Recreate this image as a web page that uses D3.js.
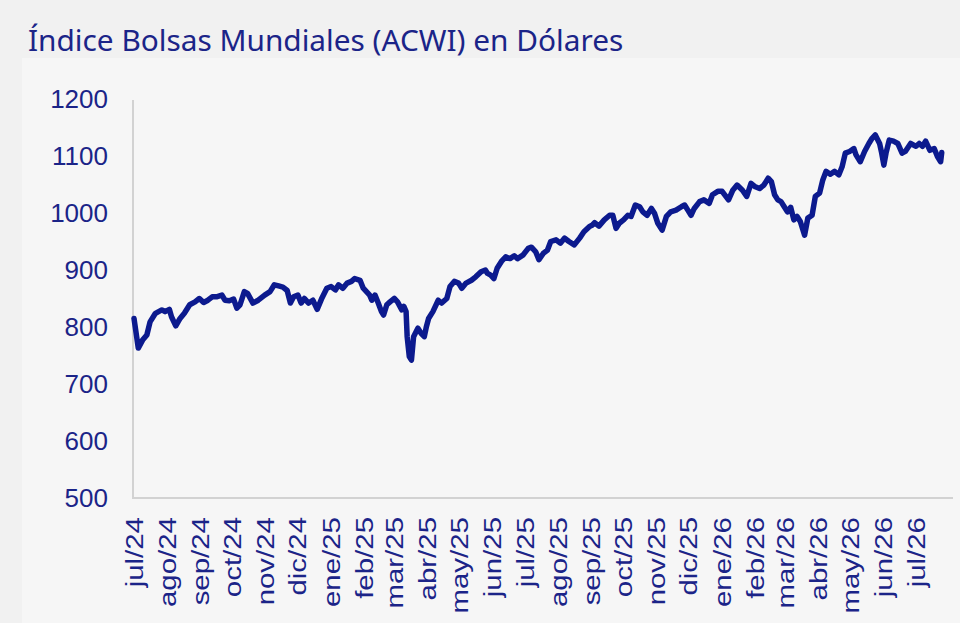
<!DOCTYPE html>
<html>
<head>
<meta charset="utf-8">
<script src="https://cdn.jsdelivr.net/npm/d3@7"></script>
<style>
  html, body { margin: 0; padding: 0; background: #f1f1f1; }
</style>
</head>
<body>
<div id="canvas"></div>
<script>
"use strict";

/* Config */
let svgWidth = 960;
let svgHeight = 623;
const navy = "#1b2488";
const lineColor = "#0c1a8e";

/* Data: días desde el 1-jul-2024 y nivel del índice */
const fechaInicio = new Date(2024, 6, 1);
const dias = [
  0, 4, 8, 12, 15, 20, 23, 26, 29, 33, 35, 39, 43, 47, 52, 57, 61, 65, 69, 73,
  77, 82, 85, 89, 93, 96, 99, 103, 106, 111, 116, 122, 127, 131, 135, 139, 143, 146, 149, 153,
  156, 159, 163, 167, 171, 175, 180, 184, 188, 191, 195, 199, 203, 206, 211, 214, 217, 220, 222, 225,
  228, 231, 233, 236, 239, 243, 246, 250, 252, 254, 255, 257, 259, 261, 265, 268, 271, 273, 275, 279,
  284, 287, 292, 295, 299, 303, 306, 310, 315, 319, 324, 328, 330, 333, 336, 339, 343, 347, 351, 355,
  358, 363, 368, 371, 375, 378, 382, 386, 389, 394, 398, 402, 406, 411, 416, 420, 425, 428, 430, 434,
  439, 444, 447, 450, 453, 457, 461, 464, 468, 472, 475, 479, 483, 486, 489, 493, 497, 501, 506, 511,
  514, 517, 520, 523, 528, 532, 537, 540, 545, 549, 555, 559, 563, 568, 572, 576, 580, 584, 588, 592,
  595, 598, 601, 604, 607, 610, 613, 616, 619, 622, 626, 629, 633, 636, 640, 643, 646, 650, 654, 658,
  661, 664, 668, 672, 674, 678, 682, 686, 689, 692, 696, 698, 700, 702, 705, 709, 713, 717, 720, 725,
  730, 733, 736, 739, 743, 747, 750, 753, 754
];
const valores = [
  815, 763, 777, 786, 809, 824, 827, 830, 827, 831, 818, 802, 815, 824, 839, 844, 850, 843, 847, 853,
  853, 856, 847, 846, 849, 833, 839, 862, 859, 842, 847, 856, 862, 874, 872, 870, 864, 842, 853, 856,
  842, 850, 842, 847, 831, 849, 868, 871, 865, 874, 868, 877, 880, 885, 882, 868, 862, 856, 847, 856,
  842, 827, 821, 839, 844, 850, 844, 830, 836, 827, 783, 748, 742, 783, 798, 789, 783, 801, 815, 827,
  847, 842, 850, 871, 880, 877, 868, 877, 882, 888, 897, 900, 894, 891, 885, 903, 915, 923, 920, 925,
  920, 926, 938, 940, 932, 918, 929, 935, 950, 953, 947, 956, 950, 944, 956, 967, 976, 979, 983, 977,
  988, 996, 996, 973, 982, 988, 996, 994, 1014, 1011, 1002, 996, 1008, 999, 982, 970, 994, 1002, 1005, 1011,
  1014, 1005, 996, 1008, 1020, 1023, 1017, 1032, 1038, 1038, 1023, 1040, 1049, 1040, 1029, 1052, 1046, 1043, 1049, 1061,
  1055, 1032, 1023, 1020, 1011, 1002, 1010, 988, 994, 985, 961, 991, 996, 1029, 1035, 1058, 1073, 1068, 1073, 1067,
  1081, 1105, 1108, 1113, 1102, 1090, 1108, 1122, 1131, 1137, 1122, 1105, 1084, 1105, 1128, 1126, 1122, 1105, 1108, 1122,
  1117, 1122, 1117, 1126, 1110, 1113, 1099, 1090, 1106
];

/* Eje Y */
const ticksY = [500, 600, 700, 800, 900, 1000, 1100, 1200];

/* Eje X: etiquetas de mes */
const etiquetasX = [
  "jul/24", "ago/24", "sep/24", "oct/24", "nov/24", "dic/24",
  "ene/25", "feb/25", "mar/25", "abr/25", "may/25", "jun/25",
  "jul/25", "ago/25", "sep/25", "oct/25", "nov/25", "dic/25",
  "ene/26", "feb/26", "mar/26", "abr/26", "may/26", "jun/26", "jul/26"
];

const titulo = "Índice Bolsas Mundiales (ACWI) en Dólares";

const serie = dias.map((d, i) => ({
  fecha: d3.timeDay.offset(fechaInicio, d),
  valor: valores[i]
}));

const mesesTicks = etiquetasX.map((t, i) => d3.timeMonth.offset(fechaInicio, i));

// svg
const svg = d3.select("#canvas")
  .append("svg")
  .attr("width", svgWidth)
  .attr("height", svgHeight);

// panel claro detrás del gráfico
svg.append("rect")
  .attr("x", 22)
  .attr("y", 58)
  .attr("width", svgWidth - 22)
  .attr("height", svgHeight - 58)
  .attr("fill", "#f6f6f6");

// scales
const xScale = d3.scaleTime()
  .domain([mesesTicks[0], mesesTicks[mesesTicks.length - 1]])
  .range([134, 916]);

const yScale = d3.scaleLinear()
  .domain([500, 1200])
  .range([498, 99]);

// title
const title = svg.append("text")
  .attr("x", 28)
  .attr("y", 51)
  .attr("fill", navy)
  .attr("font-family", "'Noto Sans', 'Open Sans', sans-serif")
  .attr("font-size", "27px")
  .text(titulo);
// ajustar tamaño al ancho del original (~595 px)
const tw = title.node().getComputedTextLength();
title.attr("font-size", (27 * 595 / tw).toFixed(1) + "px");

// y axis
const yAxis = d3.axisLeft(yScale)
  .tickValues(ticksY)
  .tickFormat(d3.format("d"))
  .tickSize(0)
  .tickPadding(25);

const gy = svg.append("g")
  .attr("transform", "translate(133,0)")
  .call(yAxis);
gy.select(".domain")
  .attr("stroke", "#d2d2d2")
  .attr("stroke-width", 2)
  .attr("d", `M0,${yScale(1200) + 1}V${yScale(500)}`);
gy.selectAll("text")
  .attr("fill", navy)
  .attr("font-family", "'Liberation Sans', Arial, sans-serif")
  .attr("font-size", "26px");

// x axis
const xAxis = d3.axisBottom(xScale)
  .tickValues(mesesTicks)
  .tickFormat((d, i) => etiquetasX[i])
  .tickSize(0);

const gx = svg.append("g")
  .attr("transform", `translate(0,${yScale(500)})`)
  .call(xAxis);
gx.select(".domain")
  .attr("stroke", "#d2d2d2")
  .attr("stroke-width", 2)
  .attr("d", "M132,0H953");
gx.selectAll("text")
  .attr("fill", navy)
  .attr("font-family", "'Liberation Sans', Arial, sans-serif")
  .attr("font-size", "23px")
  .attr("text-anchor", "end")
  .attr("dy", "0.35em")
  .attr("y", 0)
  .attr("transform", "translate(0,19) rotate(-90) scale(1.28,1)");

// line
const line = d3.line()
  .x(d => xScale(d.fecha))
  .y(d => yScale(d.valor));

svg.append("path")
  .datum(serie)
  .attr("fill", "none")
  .attr("stroke", lineColor)
  .attr("stroke-width", 5.5)
  .attr("stroke-linejoin", "round")
  .attr("stroke-linecap", "round")
  .attr("d", line);
</script>
</body>
</html>
